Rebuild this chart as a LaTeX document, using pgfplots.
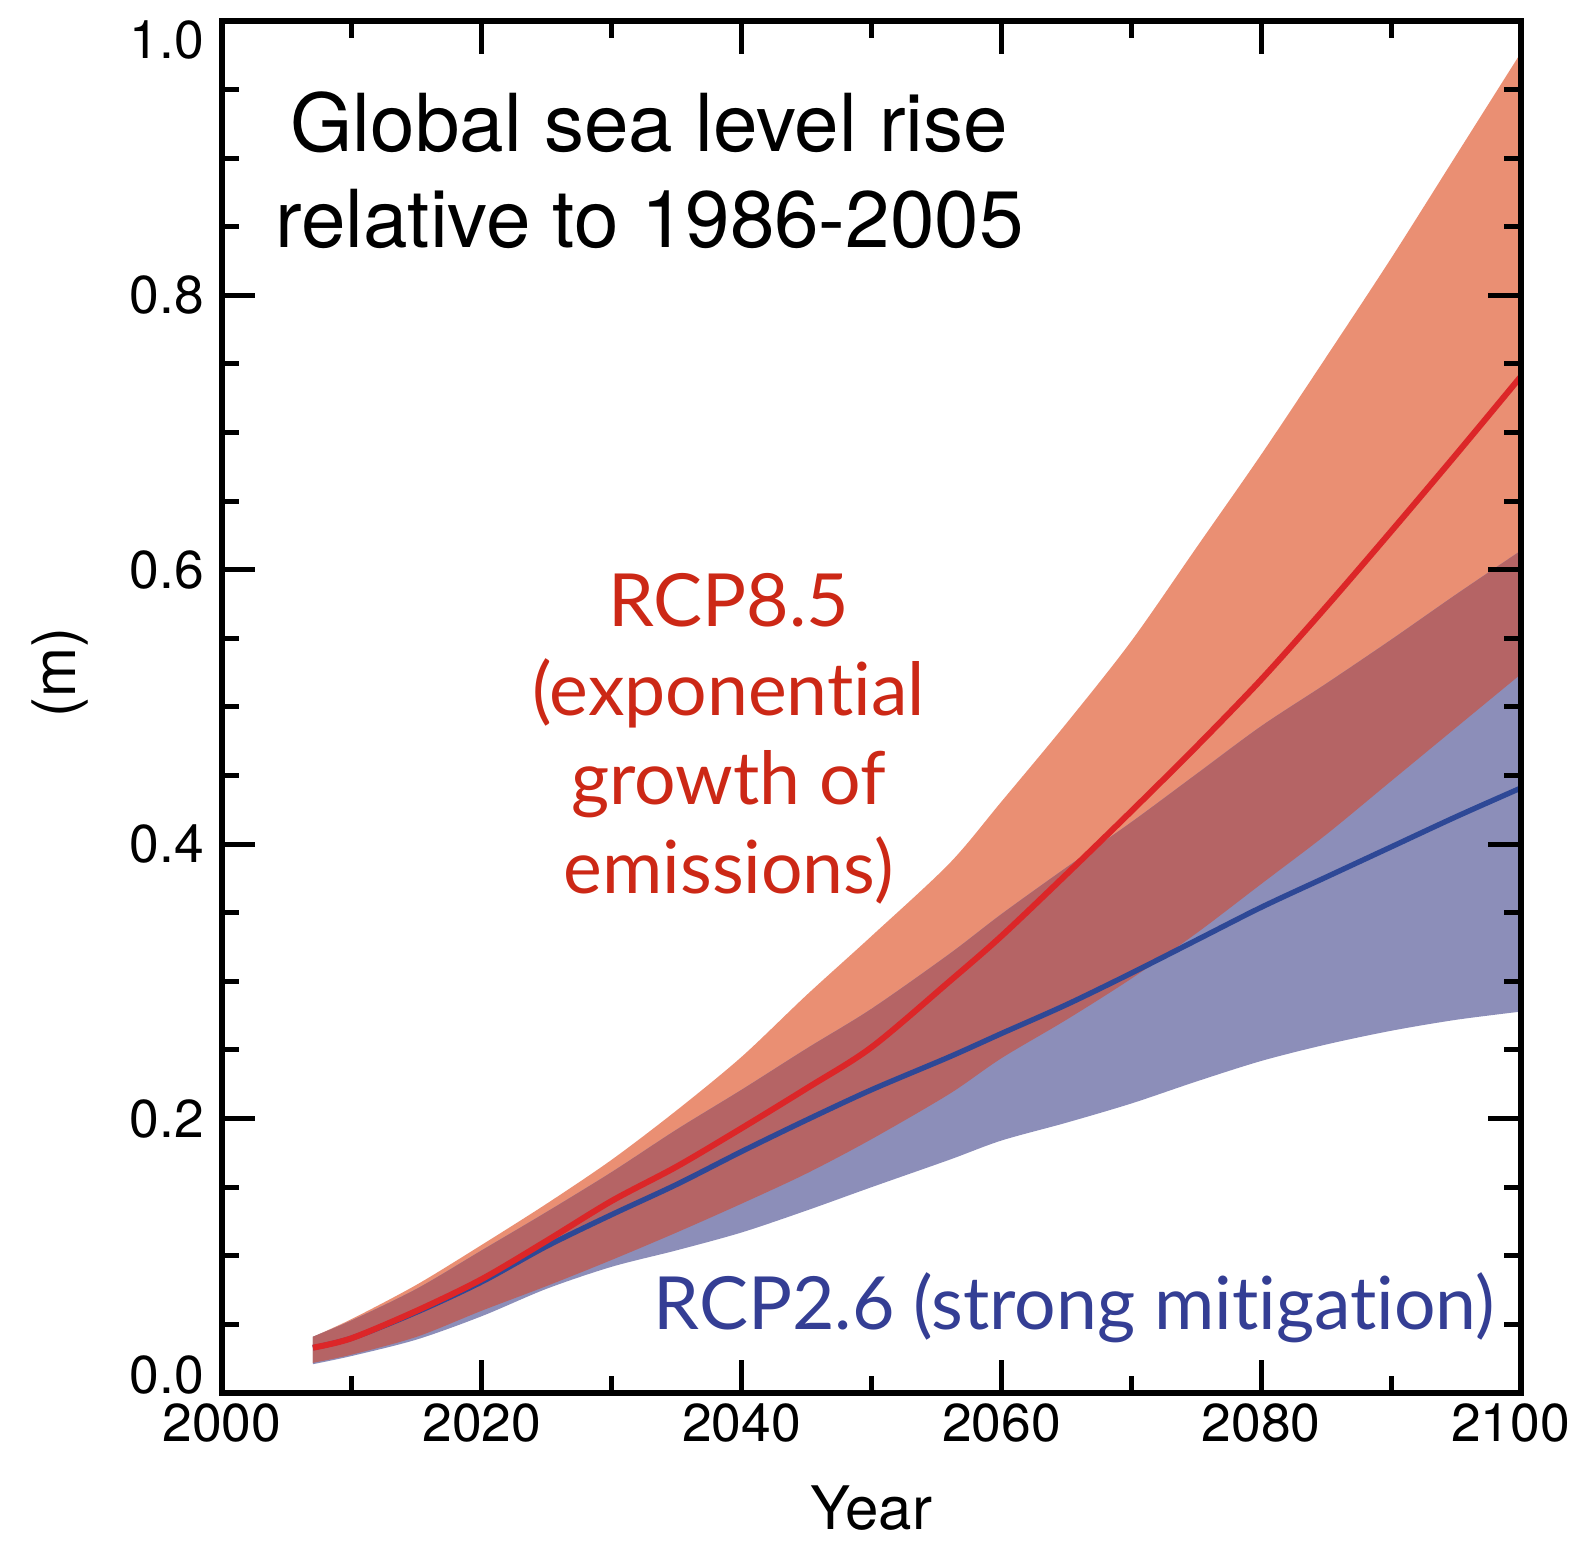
\documentclass[border=0pt]{standalone}
\usepackage{fontspec}
\setmainfont{TeX Gyre Heros}
\newfontfamily\gill{Lato}[Ligatures={NoCommon}, RawFeature={-calt}]
\usepackage{pgfplots}
\usepackage{pgfplotstable}
\pgfplotsset{compat=1.18}
\usepgfplotslibrary{fillbetween}

\definecolor{orangeband}{RGB}{234,143,115}
\definecolor{blueband}{RGB}{140,142,185}
\definecolor{overlapband}{RGB}{181,100,101}
\definecolor{redline}{RGB}{220,38,40}
\definecolor{blueline}{RGB}{46,72,150}
\definecolor{redtext}{RGB}{204,40,22}
\definecolor{bluetext}{RGB}{52,62,148}

\pgfplotstableread{
year up85 med85 lo85 up26 med26 lo26
2007 0.041 0.033 0.022 0.041 0.033 0.021
2010 0.054 0.040 0.028 0.053 0.040 0.027
2015 0.079 0.060 0.041 0.076 0.059 0.039
2020 0.108 0.083 0.060 0.104 0.081 0.056
2025 0.138 0.111 0.078 0.132 0.107 0.076
2030 0.170 0.140 0.097 0.161 0.130 0.092
2035 0.206 0.165 0.117 0.192 0.152 0.104
2040 0.245 0.193 0.138 0.221 0.176 0.117
2045 0.290 0.222 0.160 0.251 0.199 0.133
2050 0.333 0.252 0.185 0.280 0.221 0.150
2056 0.386 0.300 0.218 0.320 0.245 0.170
2060 0.431 0.333 0.244 0.349 0.262 0.184
2065 0.488 0.378 0.272 0.383 0.283 0.197
2070 0.548 0.424 0.302 0.416 0.306 0.211
2075 0.616 0.471 0.335 0.451 0.330 0.227
2080 0.684 0.520 0.371 0.486 0.354 0.242
2085 0.755 0.573 0.407 0.517 0.376 0.254
2090 0.827 0.628 0.446 0.549 0.398 0.264
2095 0.902 0.684 0.485 0.582 0.420 0.272
2100 0.977 0.741 0.524 0.614 0.441 0.278
}\sealevel

\begin{document}
\begin{tikzpicture}
\begin{axis}[
  scale only axis,
  width=389.7pt, height=411.6pt,
  xmin=2000, xmax=2100, ymin=0, ymax=1,
  axis on top,
  axis line style={line width=1.8pt, black},
  tick style={line width=1.5pt, black},
  tick align=inside,
  major tick length=10pt,
  minor tick length=5pt,
  xtick={2000,2020,2040,2060,2080,2100},
  xticklabels={2000,2020,2040,2060,2080,},
  extra x ticks={2099.2},
  extra x tick labels={2100},
  extra x tick style={tick style={draw=none}},
  ytick={0,0.2,0.4,0.6,0.8,1},
  yticklabels={,0.2,0.4,0.6,0.8,},
  extra y ticks={0.0134,0.986},
  extra y tick labels={0.0,1.0},
  extra y tick style={tick style={draw=none}},
  minor x tick num=1,
  minor y tick num=3,
  /pgf/number format/assume math mode=true,
  ticklabel style={font=\fontsize{16}{19}\selectfont},
  xticklabel style={anchor=base, yshift=-14.7pt},
  yticklabel style={anchor=east, inner sep=0pt, xshift=-5.2pt},
  xlabel={Year},
  ylabel={(m)},
  every axis x label/.style={at={(axis description cs:0.5,0)}, anchor=base, yshift=-41pt, font=\fontsize{18}{21}\selectfont},
  every axis y label/.style={at={(axis description cs:-0.1247,0.525)}, anchor=center, rotate=90, font=\fontsize{18}{21}\selectfont},
]
\addplot[draw=none, smooth, name path=u85] table[x=year,y=up85]{\sealevel};
\addplot[draw=none, smooth, name path=l85] table[x=year,y=lo85]{\sealevel};
\addplot[draw=none, smooth, name path=u26] table[x=year,y=up26]{\sealevel};
\addplot[draw=none, smooth, name path=l26] table[x=year,y=lo26]{\sealevel};
\addplot[orangeband, draw=none] fill between[of=u85 and l85];
\addplot[blueband, draw=none] fill between[of=u26 and l26];
\addplot[overlapband, draw=none] fill between[of=u26 and l85];
\addplot[blueline, line width=1.6pt, smooth] table[x=year,y=med26]{\sealevel};
\addplot[redline, line width=1.8pt, smooth] table[x=year,y=med85]{\sealevel};

\node[anchor=base, font=\fontsize{24}{28.8}\selectfont] at (axis cs:2032.9,0.905) {Global sea level rise};
\node[anchor=base, font=\fontsize{24}{28.8}\selectfont] at (axis cs:2032.9,0.835) {relative to 1986-2005};

\node[anchor=base, text=redtext, font=\gill\fontsize{22}{26}\selectfont] at (axis cs:2039.0,0.559) {RCP8.5};
\node[anchor=base, text=redtext, font=\gill\fontsize{22}{26}\selectfont] at (axis cs:2039.0,0.494) {(exponential};
\node[anchor=base, text=redtext, font=\gill\fontsize{22}{26}\selectfont] at (axis cs:2039.0,0.429) {growth of};
\node[anchor=base, text=redtext, font=\gill\fontsize{22}{26}\selectfont] at (axis cs:2039.0,0.364) {emissions)};

\node[anchor=base, text=bluetext, font=\gill\fontsize{22}{26}\selectfont] at (axis cs:2065.6,0.0466) {RCP2.6 (strong mitigation)};
\end{axis}
\pgfresetboundingbox
\path[use as bounding box] ([xshift=-66.6pt,yshift=-45pt]current axis.south west) rectangle ([xshift=17.4pt,yshift=6.3pt]current axis.north east);
\end{tikzpicture}
\end{document}
